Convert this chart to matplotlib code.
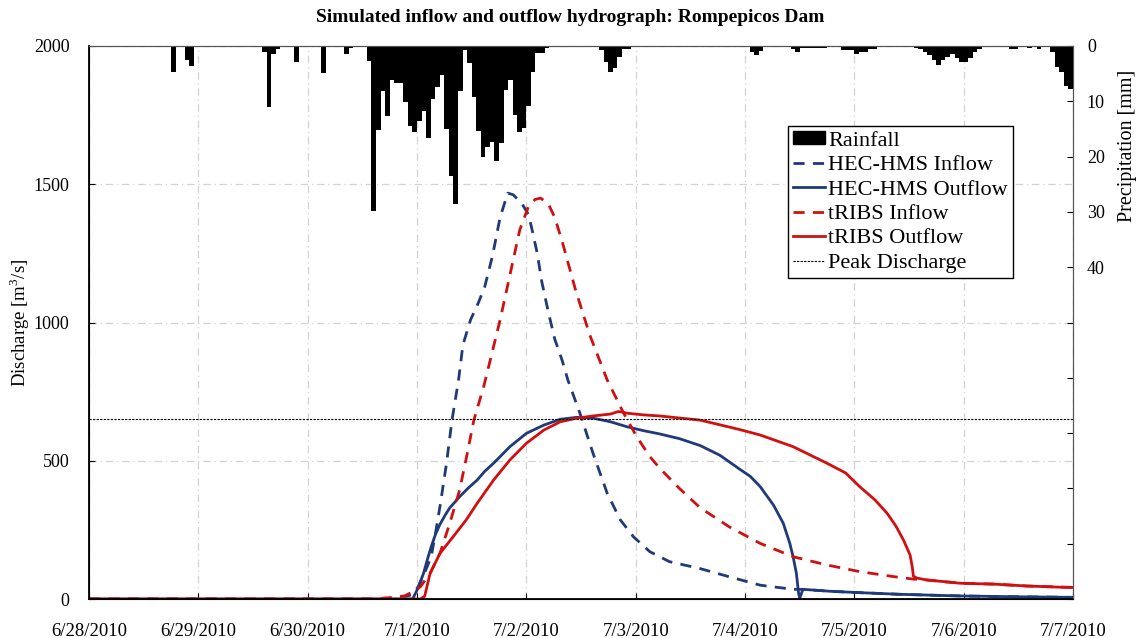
import matplotlib
matplotlib.use("Agg")
import matplotlib.pyplot as plt
from matplotlib.lines import Line2D
from matplotlib.patches import Patch

plt.rcParams["font.family"] = ["Liberation Serif", "DejaVu Serif"]
plt.rcParams["mathtext.fontset"] = "custom"
plt.rcParams["mathtext.rm"] = "Liberation Serif"

# ---- data (time in days after 6/28/2010 00:00) ----
date_labels = ["6/28/2010", "6/29/2010", "6/30/2010", "7/1/2010", "7/2/2010",
               "7/3/2010", "7/4/2010", "7/5/2010", "7/6/2010", "7/7/2010"]

# hourly rainfall [mm], hour index after 6/28/2010 00:00
rain_hour = [18, 21, 22, 38, 39, 40, 41, 45, 51, 56, 57,
             61, 62, 63, 64, 65, 66, 67, 68, 69, 70, 71, 72, 73, 74, 75, 76, 77,
             78, 79, 80, 81, 82, 83, 84, 85, 86, 87, 88, 89, 90, 91, 92, 93, 94,
             95, 96, 97, 98, 99, 100,
             112, 113, 114, 115, 116, 117, 118,
             145, 146, 147, 154, 155, 156, 157, 158, 159, 160, 161,
             165, 166, 167, 168, 169, 170, 171, 172,
             181, 182, 183, 184, 185, 186, 187, 188, 189, 190, 191, 192, 193, 194, 195,
             202, 203, 206, 208, 211, 212, 213, 214, 215]
rain_mm = [4.7, 2.5, 3.7, 1.1, 11.0, 1.4, 0.6, 2.9, 4.9, 1.4, 0.4,
           2.8, 29.9, 15.1, 8.2, 12.6, 6.2, 6.7, 6.7, 10.1, 14.4, 15.6, 13.5, 11.7, 16.6, 9.5, 7.4, 5.3,
           15.0, 23.5, 28.5, 8.2, 0.7, 3.1, 9.2, 15.4, 20.0, 18.3, 17.3, 20.8, 17.5, 8.0, 6.2, 12.5, 15.6,
           14.8, 10.8, 4.7, 1.3, 1.3, 0.4,
           0.7, 2.9, 4.7, 4.0, 1.9, 0.6, 0.6,
           1.1, 1.7, 0.9, 0.5, 1.0, 0.4, 0.4, 0.4, 0.4, 0.4, 0.4,
           0.7, 0.7, 0.7, 1.4, 1.0, 1.0, 0.6, 0.6,
           0.4, 0.6, 1.1, 1.7, 2.6, 3.5, 2.6, 1.9, 1.5, 2.2, 2.9, 2.9, 2.2, 1.1, 0.5,
           0.5, 0.5, 0.4, 0.5, 1.0, 3.8, 4.7, 7.3, 7.7]

hec_in_t = [0.0, 2.66, 2.80, 2.85, 2.95, 3.01, 3.07, 3.13, 3.17, 3.21, 3.27, 3.32,
            3.38, 3.42, 3.49, 3.56, 3.62, 3.69, 3.76, 3.83, 3.88, 3.96, 4.02, 4.05,
            4.10, 4.14, 4.20, 4.26, 4.33, 4.38, 4.49, 4.61, 4.74, 4.86, 4.98, 5.13,
            5.31, 5.59, 5.86, 6.14, 6.44, 6.53, 6.78, 7.05, 7.42, 7.97, 8.52, 9.0]
hec_in_q = [0, 0, 4, 6, 15, 44, 95, 153, 240, 334, 491, 647,
            792, 919, 1010, 1070, 1130, 1240, 1380, 1468, 1462, 1430, 1390, 1340,
            1250, 1150, 1040, 940, 860, 792, 672, 527, 382, 286, 225, 171,
            135, 110, 80, 50, 35, 35, 28, 23, 17, 11, 8, 6]

hec_out_t = [0.0, 2.96, 3.01, 3.06, 3.10, 3.13, 3.17, 3.21, 3.26, 3.30, 3.35, 3.39,
             3.47, 3.55, 3.62, 3.70, 3.85, 4.00, 4.16, 4.31, 4.46, 4.61, 4.77, 4.92,
             5.07, 5.22, 5.40, 5.59, 5.77, 5.95, 6.05, 6.14, 6.26, 6.35, 6.41, 6.44,
             6.47, 6.49, 6.50, 6.53, 6.78, 7.05, 7.42, 7.97, 8.52, 9.0]
hec_out_q = [0, 0, 40, 93, 150, 189, 235, 270, 305, 330, 352, 370,
             402, 430, 462, 491, 551, 599, 629, 650, 657, 654, 641, 623,
             609, 597, 580, 555, 520, 470, 443, 406, 340, 274, 201, 153,
             93, 21, 3, 35, 28, 23, 17, 11, 8, 6]

trb_in_t = [0.0, 2.62, 2.71, 2.80, 2.89, 2.98, 3.03, 3.12, 3.21, 3.30, 3.39, 3.46,
            3.52, 3.61, 3.67, 3.76, 3.85, 3.94, 4.02, 4.08, 4.13, 4.20, 4.26, 4.33,
            4.45, 4.58, 4.74, 4.89, 5.01, 5.13, 5.22, 5.40, 5.59, 5.86, 6.14, 6.44,
            6.75, 7.05, 7.36, 7.54, 7.66, 7.97, 8.27, 8.58, 9.0]
trb_in_q = [0, 0, 4, 6, 12, 30, 44, 93, 165, 274, 394, 527,
            647, 768, 864, 1009, 1172, 1335, 1420, 1445, 1450, 1430, 1380, 1290,
            1118, 955, 792, 672, 587, 515, 473, 400, 330, 260, 201, 153,
            123, 99, 81, 72, 69, 57, 54, 47, 42]

trb_out_t = [0.0, 3.03, 3.07, 3.12, 3.21, 3.33, 3.45, 3.55, 3.70, 3.85, 4.00, 4.16,
             4.31, 4.46, 4.61, 4.77, 4.84, 4.88, 4.92, 5.07, 5.22, 5.59, 5.95, 6.14,
             6.44, 6.75, 6.92, 7.05, 7.19, 7.30, 7.38, 7.45, 7.49, 7.51, 7.53, 7.54,
             7.57, 7.66, 7.97, 8.27, 8.58, 8.94, 9.0]
trb_out_q = [0, 0, 10, 93, 165, 225, 286, 346, 430, 503, 563, 611,
             641, 654, 662, 669, 678, 676, 672, 666, 662, 647, 613, 593,
             551, 491, 456, 406, 358, 310, 264, 213, 177, 159, 116, 83,
             76, 69, 57, 54, 47, 42, 42]

peak_discharge = 650

# ---- figure ----
fig = plt.figure(figsize=(11.41, 6.38), dpi=100)
ax = fig.add_axes([0.078, 0.0611, 0.8624, 0.8668])

navy = "#1f3a78"
red = "#d01010"

ax.plot(hec_in_t, hec_in_q, color=navy, lw=2.0, dashes=(4, 3))
ax.plot(hec_out_t, hec_out_q, color=navy, lw=2.0)
ax.plot(trb_in_t, trb_in_q, color=red, lw=2.0, dashes=(4, 3))
ax.plot(trb_out_t, trb_out_q, color=red, lw=2.0)
ax.axhline(peak_discharge, color="black", lw=0.8, dashes=(2, 1.2))

ax.set_xlim(0, 9)
ax.set_ylim(0, 2000)
ax.set_xticks(range(len(date_labels)))
ax.set_xticklabels(date_labels)
ax.set_yticks([0, 500, 1000, 1500, 2000])
ax.tick_params(axis="x", direction="in", pad=17, labelsize=13.5, length=4)
ax.tick_params(axis="y", direction="in", pad=14, labelsize=13, length=4)
ax.grid(True, color="#d3d3d3", lw=0.9, linestyle=(0, (6, 3, 1, 3)))
ax.set_axisbelow(True)
ax.set_ylabel("Discharge [m$^3$/s]", fontsize=13.5, labelpad=1.5)
fig.suptitle("Simulated inflow and outflow hydrograph: Rompepicos Dam",
             x=0.5, y=0.972, va="center", fontsize=14, fontweight="bold")
for side in ["left", "bottom"]:
    ax.spines[side].set_color("black")
    ax.spines[side].set_linewidth(1.3)
ax.spines["top"].set_color("#555555")
ax.spines["right"].set_color("#555555")

# rainfall on inverted secondary axis
ax2 = ax.twinx()
rain_t = [h / 24.0 for h in rain_hour]
ax2.bar(rain_t, rain_mm, width=1 / 24.0, align="edge", color="black",
        edgecolor="none", linewidth=0)
ax2.set_ylim(100, 0)
ax2.set_xlim(0, 9)
ax2.set_yticks(range(0, 101, 10))
ax2.set_yticklabels(["0", "10", "20", "30", "40"] + [""] * 6)
ax2.tick_params(axis="y", direction="in", pad=10, labelsize=13, length=4)
ax2.set_ylabel("Precipitation [mm]", fontsize=14.5)
ax2.yaxis.set_label_coords(1.046, 0.82)
ax2.spines["right"].set_color("#555555")
ax2.spines["top"].set_color("#555555")

handles = [
    Patch(facecolor="black", edgecolor="black"),
    Line2D([], [], color=navy, lw=2.0, dashes=(4, 3)),
    Line2D([], [], color=navy, lw=2.0),
    Line2D([], [], color=red, lw=2.0, dashes=(4, 3)),
    Line2D([], [], color=red, lw=2.0),
    Line2D([], [], color="black", lw=0.8, dashes=(2, 1.2)),
]
labels = ["Rainfall", "HEC-HMS Inflow", "HEC-HMS Outflow", "tRIBS Inflow",
          "tRIBS Outflow", "Peak Discharge"]
leg = ax2.legend(handles, labels, loc="upper right", bbox_to_anchor=(0.939, 0.855),
                 fontsize=16, frameon=True, fancybox=False, framealpha=1,
                 edgecolor="black", handlelength=1.45, handleheight=0.55,
                 handletextpad=0.15, labelspacing=0.22, borderpad=0.22,
                 borderaxespad=0)
leg.get_frame().set_linewidth(1.0)

fig.savefig("out.png", dpi=100)
